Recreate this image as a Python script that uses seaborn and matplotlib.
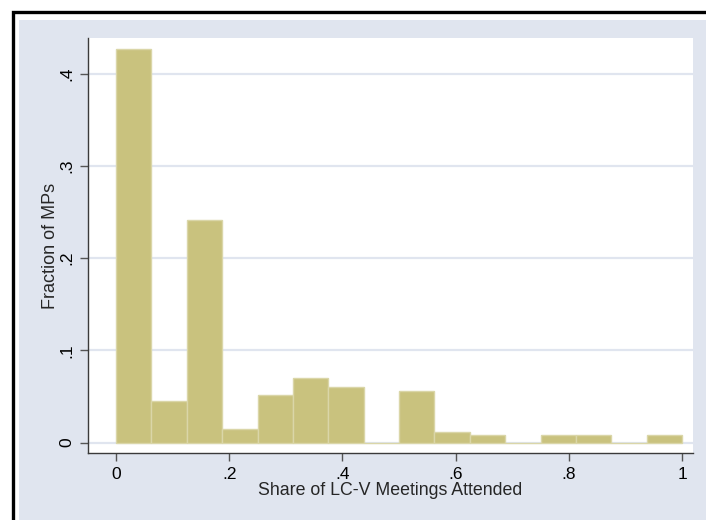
import numpy as np
import pandas as pd
import matplotlib
matplotlib.use("Agg")
import matplotlib.pyplot as plt
from matplotlib.patches import Rectangle
import seaborn as sns

# Data: histogram of share of LC-V meetings attended (16 bins of width 1/16)
bin_edges = [i / 16 for i in range(17)]
fractions = [0.427, 0.045, 0.241, 0.015, 0.052, 0.070, 0.060, 0.0,
             0.056, 0.012, 0.008, 0.0, 0.008, 0.008, 0.0, 0.008]
xticks = [0, 0.2, 0.4, 0.6, 0.8, 1.0]
xtick_labels = ["0", ".2", ".4", ".6", ".8", "1"]
yticks = [0, 0.1, 0.2, 0.3, 0.4]
ytick_labels = ["0", ".1", ".2", ".3", ".4"]

centers = [(bin_edges[i] + bin_edges[i + 1]) / 2 for i in range(16)]
df = pd.DataFrame({"share": centers, "fraction": fractions})

sns.set_style("white")
plt.rcParams["font.family"] = ["Liberation Sans", "DejaVu Sans"]

W, H = 706, 520
fig = plt.figure(figsize=(W / 100, H / 100), dpi=100)
fig.patch.set_facecolor("white")

# outer light panel and black border (drawn beneath the axes)
fig.patches.append(Rectangle((19 / W, 0), 1, 1 - 20 / H, transform=fig.transFigure,
                             facecolor="#E0E5EF", edgecolor="none", zorder=-3))
fig.patches.append(Rectangle((12.5 / W, -0.1), 1.2, 1.1 - 12.5 / H, transform=fig.transFigure,
                             facecolor="none", edgecolor="black", linewidth=2.4, zorder=-2))

ax = fig.add_axes([88 / W, 1 - 453 / H, (693 - 88) / W, (453 - 38) / H])
ax.set_zorder(2)
ax.set_facecolor("white")

sns.histplot(data=df, x="share", weights="fraction", bins=bin_edges, stat="count",
             color="#C9C27E", edgecolor="#DAD6A8", linewidth=1.0, alpha=1.0, ax=ax)

ax.set_xlim(-0.0495, 1.0194)
ax.set_ylim(-0.0112, 0.4385)
ax.set_axisbelow(True)
ax.yaxis.grid(True, color="#E0E5EF", linewidth=1.6)
ax.xaxis.grid(False)

ax.set_xticks(xticks)
ax.set_xticklabels(xtick_labels)
ax.set_yticks(yticks)
ax.set_yticklabels(ytick_labels, rotation=90, va="center")

for s in ["top", "right"]:
    ax.spines[s].set_visible(False)
for s in ["left", "bottom"]:
    ax.spines[s].set_color("#3a3a3a")
    ax.spines[s].set_linewidth(1.0)

ax.tick_params(axis="both", direction="out", length=6, width=1.0, color="#555555",
               labelsize=12.5, labelcolor="black", pad=4)
ax.tick_params(axis="x", bottom=True)
ax.tick_params(axis="y", left=True)

ax.set_xlabel("Share of LC-V Meetings Attended", fontsize=12.8, labelpad=0)
ax.set_ylabel("Fraction of MPs", fontsize=13, labelpad=0)

fig.savefig("out.png", dpi=100)
